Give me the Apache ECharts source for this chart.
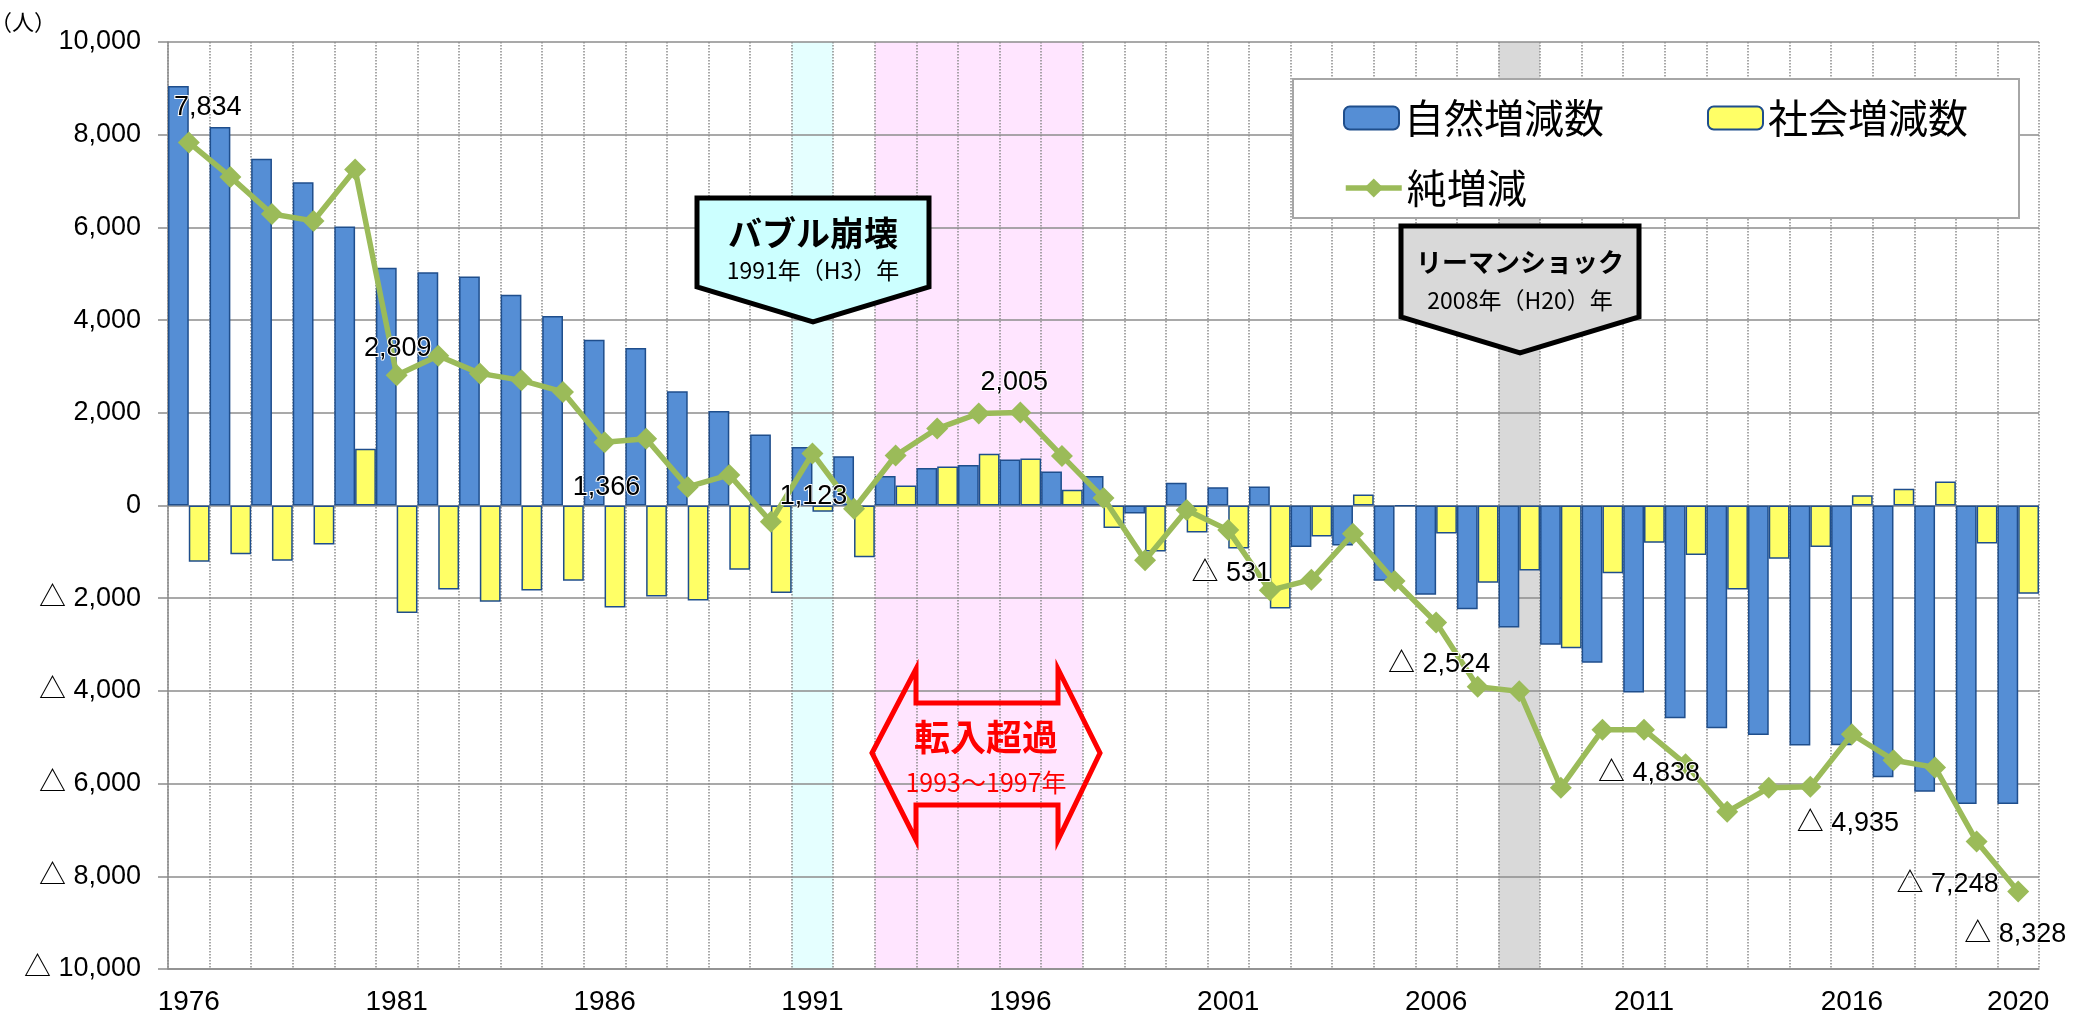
<!DOCTYPE html>
<html>
<head>
<meta charset="utf-8">
<script src="https://cdn.jsdelivr.net/npm/echarts@6/dist/echarts.min.js"></script>
<style>
  html, body { margin: 0; padding: 0; background: #fff; }
  #chart { width: 2073px; height: 1023px; }
</style>
</head>
<body>
<div id="chart"></div>
<script>
  // categories
  const years = ['1976', '1977', '1978', '1979', '1980', '1981', '1982', '1983', '1984', '1985',
    '1986', '1987', '1988', '1989', '1990', '1991', '1992', '1993', '1994', '1995',
    '1996', '1997', '1998', '1999', '2000', '2001', '2002', '2003', '2004', '2005',
    '2006', '2007', '2008', '2009', '2010', '2011', '2012', '2013', '2014', '2015',
    '2016', '2017', '2018', '2019', '2020']
  const xLabelYears = ['1976', '1981', '1986', '1991', '1996', '2001', '2006', '2011', '2016', '2020']

  // 自然増減数
  const natural = [9050, 8165, 7480, 6975, 6020, 5130, 5035, 4940, 4545, 4090,
    3575, 3400, 2465, 2040, 1530, 1260, 1065, 635, 810, 875,
    990, 735, 635, -170, 490, 395, 410, -895, -865, -1626,
    -1925, -2238, -2633, -3006, -3394, -4036, -4588, -4804, -4953, -5177,
    -5170, -5864, -6177, -6438, -6438]
  // 社会増減数
  const social = [-1216, -1052, -1194, -843, 1222, -2320, -1813, -2074, -1835, -1626,
    -2200, -1962, -2050, -1388, -1887, -134, -1119, 431, 841, 1114,
    1014, 338, -485, -992, -582, -926, -2223, -671, 237, -10,
    -604, -1664, -1402, -3081, -1462, -806, -1067, -1813, -1149, -895,
    223, 360, 518, -821, -1902]
  // 純増減
  const net = [7834, 7090, 6290, 6140, 7250, 2809, 3230, 2850, 2700, 2450,
    1366, 1440, 400, 660, -350, 1123, -70, 1080, 1660, 1985,
    2005, 1070, 160, -1180, -95, -531, -1830, -1600, -610, -1630,
    -2524, -3910, -4010, -6087, -4840, -4838, -5580, -6610, -6090, -6070,
    -4935, -5495, -5650, -7248, -8328]
  const labeledYears = ['1976', '1981', '1986', '1991', '1996', '2001', '2006', '2011', '2016', '2019', '2020']

  // y axis ticks
  const yMin = -10000
  const yMax = 10000
  const yStep = 2000

  // shaded periods [from, to, color]
  const bands = [
    ['1991', '1991', 'rgba(0,255,255,0.10)'],
    ['1993', '1997', 'rgba(255,0,255,0.10)'],
    ['2008', '2008', 'rgba(0,0,0,0.15)']
  ]

  // where each value label sits relative to its marker (px)
  const labelOffsets = {
    '1976': [19, -35], '1981': [1, -27], '1986': [2, 45], '1991': [1, 43],
    '1996': [-6, -30], '2001': [3, 43], '2006': [3, 42], '2011': [5, 44],
    '2016': [-4, 89], '2019': [-29, 43], '2020': [-3, 43]
  }

  const NUM_FONT = '"Liberation Sans", "Noto Sans CJK JP", sans-serif'
  const JP_FONT = '"Noto Sans CJK JP", sans-serif'

  function fmt(v) {
    const s = Math.abs(v).toString().replace(/\B(?=(\d{3})+(?!\d))/g, ',')
    return v < 0 ? '△ ' + s : s
  }

  const netData = net.map((v, i) => {
    const y = years[i]
    if (labeledYears.indexOf(y) < 0) return v
    return {
      value: v,
      label: {
        show: true,
        position: 'inside',
        offset: labelOffsets[y],
        formatter: p => fmt(p.value),
        fontSize: 27,
        fontFamily: NUM_FONT,
        color: '#000',
        textBorderColor: '#fff',
        textBorderWidth: 2
      }
    }
  })

  const bandAreas = bands.map(b => [
    { xAxis: years.indexOf(b[0]) - 0.5, itemStyle: { color: b[2] } },
    { xAxis: years.indexOf(b[1]) + 0.5 }
  ])

  const barBorder = '#1F4E8C'

  const option = {
    animation: false,
    backgroundColor: '#fff',
    grid: { left: 168, right: 34, top: 42, bottom: 54 },
    legend: [
      {
        data: ['自然増減数', '社会増減数'],
        left: 1338,
        top: 93,
        itemWidth: 55,
        itemHeight: 23,
        itemGap: 103,
        selectedMode: false,
        textStyle: { fontSize: 40, fontFamily: JP_FONT, color: '#000' },
        z: 20
      },
      {
        data: ['純増減'],
        left: 1338,
        top: 163,
        itemWidth: 56,
        itemHeight: 24,
        selectedMode: false,
        lineStyle: { width: 5.5 },
        textStyle: { fontSize: 40, fontFamily: JP_FONT, color: '#000' },
        z: 20
      }
    ],
    xAxis: [
      {
        type: 'category',
        data: years,
        boundaryGap: true,
        axisLine: { onZero: false, lineStyle: { color: '#8c8c8c', width: 1.5 } },
        axisTick: { show: false },
        axisLabel: {
          interval: (idx, val) => xLabelYears.indexOf(val) >= 0,
          fontSize: 28,
          fontFamily: NUM_FONT,
          color: '#000',
          margin: 19
        },
        splitLine: {
          show: true,
          interval: 0,
          lineStyle: { color: '#8c8c8c', width: 1.5, type: 'dotted' }
        }
      },
      {
        // hidden numeric twin of the category axis, only for the shaded periods
        type: 'value',
        min: -0.5,
        max: years.length - 0.5,
        show: false
      }
    ],
    yAxis: {
      type: 'value',
      min: yMin,
      max: yMax,
      interval: yStep,
      axisLine: { show: true, onZero: false, lineStyle: { color: '#8c8c8c', width: 1.5 } },
      axisTick: { show: true, length: 10, lineStyle: { color: '#8c8c8c', width: 1.5 } },
      axisLabel: {
        formatter: v => fmt(v),
        fontSize: 27,
        fontFamily: NUM_FONT,
        color: '#000',
        margin: 27
      },
      splitLine: { lineStyle: { color: '#8c8c8c', width: 1.5 } }
    },
    series: [
      {
        type: 'line',
        xAxisIndex: 1,
        data: [],
        silent: true,
        markArea: { silent: true, z: -1, data: bandAreas }
      },
      {
        name: '自然増減数',
        type: 'bar',
        data: natural,
        barGap: '0%',
        barCategoryGap: '0%',
        itemStyle: { color: '#558ED5', borderColor: barBorder, borderWidth: 1.5 }
      },
      {
        name: '社会増減数',
        type: 'bar',
        data: social,
        barGap: '0%',
        barCategoryGap: '0%',
        itemStyle: { color: '#FFFF66', borderColor: barBorder, borderWidth: 1.5 }
      },
      {
        name: '純増減',
        type: 'line',
        data: netData,
        symbol: 'diamond',
        symbolSize: 22,
        z: 5,
        lineStyle: { color: '#9BBB59', width: 5.5 },
        itemStyle: { color: '#9BBB59' }
      }
    ],
    graphic: [
      {
        type: 'text', x: 23, y: 22, z: 20,
        style: { text: '（人）', fontSize: 22, fontFamily: JP_FONT, fill: '#000', align: 'center', verticalAlign: 'middle' }
      },
      {
        type: 'rect', z: 15,
        shape: { x: 1293, y: 79, width: 726, height: 139 },
        style: { fill: '#fff', stroke: '#A6A6A6', lineWidth: 2 }
      },
      // バブル崩壊
      {
        type: 'polygon', z: 15,
        shape: { points: [[697, 198], [929, 198], [929, 287], [813, 322], [697, 287]] },
        style: { fill: '#CCFFFF', stroke: '#000', lineWidth: 5 }
      },
      {
        type: 'text', x: 813, y: 233, z: 16,
        style: { text: 'バブル崩壊', fontSize: 34, fontWeight: 'bold', fontFamily: JP_FONT, fill: '#000', align: 'center', verticalAlign: 'middle' }
      },
      {
        type: 'text', x: 813, y: 270, z: 16,
        style: { text: '1991年（H3）年', fontSize: 23, fontFamily: JP_FONT, fill: '#000', align: 'center', verticalAlign: 'middle' }
      },
      // リーマンショック
      {
        type: 'polygon', z: 15,
        shape: { points: [[1401, 226], [1639, 226], [1639, 317], [1520, 353], [1401, 317]] },
        style: { fill: '#D9D9D9', stroke: '#000', lineWidth: 5 }
      },
      {
        type: 'text', x: 1520, y: 262, z: 16,
        style: { text: 'リーマンショック', fontSize: 26, fontWeight: 'bold', fontFamily: JP_FONT, fill: '#000', align: 'center', verticalAlign: 'middle' }
      },
      {
        type: 'text', x: 1520, y: 300, z: 16,
        style: { text: '2008年（H20）年', fontSize: 23, fontFamily: JP_FONT, fill: '#000', align: 'center', verticalAlign: 'middle' }
      },
      // 転入超過
      {
        type: 'polygon', z: 15,
        shape: {
          points: [[872, 753], [916, 669], [916, 703], [1058, 703], [1058, 669], [1100, 753],
            [1058, 840], [1058, 805], [916, 805], [916, 840]]
        },
        style: { fill: 'none', stroke: '#FF0000', lineWidth: 5 }
      },
      {
        type: 'text', x: 986, y: 737, z: 16,
        style: { text: '転入超過', fontSize: 36, fontWeight: 'bold', fontFamily: JP_FONT, fill: '#FF0000', align: 'center', verticalAlign: 'middle' }
      },
      {
        type: 'text', x: 986, y: 782, z: 16,
        style: { text: '1993～1997年', fontSize: 25, fontFamily: JP_FONT, fill: '#FF0000', align: 'center', verticalAlign: 'middle' }
      }
    ]
  }

  const myChart = echarts.init(document.getElementById('chart'))
  myChart.setOption(option)
</script>
</body>
</html>
